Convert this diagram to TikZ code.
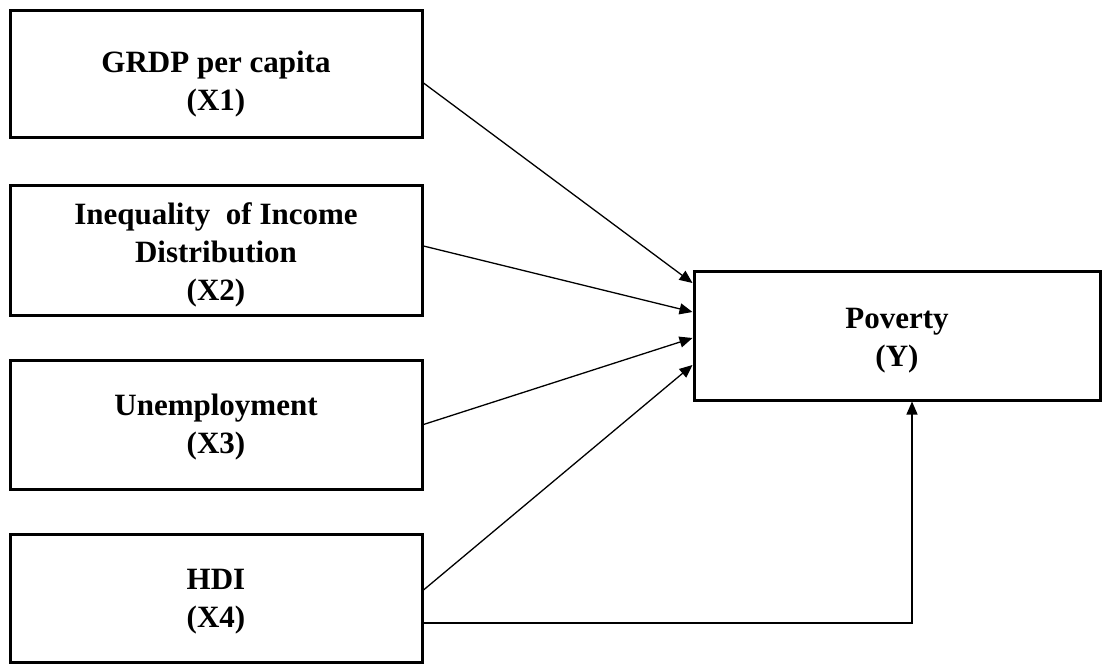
\documentclass[tikz,border=0pt]{standalone}
\usepackage{fontspec}
\setmainfont{Liberation Serif}
\usetikzlibrary{arrows.meta,calc}
\begin{document}
\begin{tikzpicture}[x=1pt,y=-1pt,
  varbox/.style={draw=black,line width=3pt,fill=white,minimum width=412pt,inner sep=0pt},
  txt/.style={align=center,font=\fontsize{31}{38}\selectfont\bfseries,inner sep=0pt},
  conn/.style={line width=1.3pt,-{Triangle[length=13pt,width=11pt]}}]
\useasboundingbox (0,0) rectangle (1102,664);
\node[varbox,minimum height=127pt] (x1) at (216,73.5) {};
\node[varbox,minimum height=130pt] (x2) at (216,250) {};
\node[varbox,minimum height=129pt] (x3) at (216,424.5) {};
\node[varbox,minimum height=128pt] (x4) at (216,598) {};
\node[varbox,minimum width=406pt,minimum height=129pt] (y) at (897,335.5) {};
\node[txt] (x1t) at ($(x1)+(0,11)$) {GRDP per capita\\(X1)};
\node[txt] (x2t) at ($(x2)+(0,5)$) {Inequality\ \ of Income\\Distribution\\(X2)};
\node[txt] (x3t) at ($(x3)+(0,3)$) {Unemployment\\(X3)};
\node[txt] (x4t) at ($(x4)+(0,4)$) {HDI\\(X4)};
\node[txt] (yt) at ($(y)+(0,5)$) {Poverty\\(Y)};
\draw[conn] ($(x1.east)+(0,9.5)$) -- ($(y.west)+(0,-52.5)$);
\draw[conn] ($(x2.east)+(0,-4)$) -- ($(y.west)+(0,-23.5)$);
\draw[conn] ($(x3.east)+(0,0)$) -- ($(y.west)+(0,2.5)$);
\draw[conn] ($(x4.east)+(0,-8)$) -- ($(y.west)+(0,29.5)$);
\draw[conn] ($(x4.east)+(0,25)$) -| ($(y.south)+(15,0)$);
\end{tikzpicture}
\end{document}
